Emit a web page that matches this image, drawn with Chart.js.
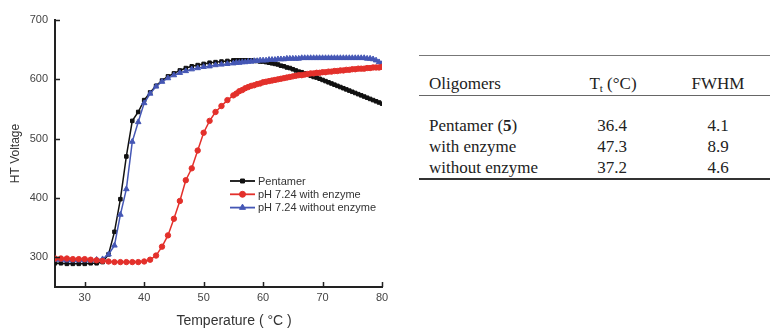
<!DOCTYPE html>
<html>
<head>
<meta charset="utf-8">
<script src="https://cdn.jsdelivr.net/npm/chart.js@4.4.1/dist/chart.umd.min.js"></script>
<style>
  html, body { margin: 0; padding: 0; background: #fff; }
  body { width: 770px; height: 330px; position: relative; overflow: hidden; }
  #chartBox { position: absolute; left: 0; top: 0; width: 400px; height: 330px; }
  .tbl { position: absolute; font-family: "Liberation Serif", "Times New Roman", serif; font-size: 17px; color: #222; white-space: nowrap; line-height: 1; }
  .hl { position: absolute; left: 419px; width: 351px; }
  .c { transform: translateX(-50%); }
</style>
</head>
<body>
<div id="chartBox"><canvas id="c"></canvas></div>

<div class="hl" style="top:55px;height:1px;background:#777;"></div>
<div class="hl" style="top:95px;height:1px;background:#666;"></div>
<div class="hl" style="top:178px;height:2px;background:#333;"></div>

<div class="tbl" style="left:429px;top:75px;">Oligomers</div>
<div class="tbl c" style="left:613px;top:75px;">T<sub style="font-size:11px;vertical-align:-3px;">t</sub> (°C)</div>
<div class="tbl c" style="left:718px;top:75px;">FWHM</div>

<div class="tbl" style="left:429px;top:117px;">Pentamer (<b>5</b>)</div>
<div class="tbl" style="left:429px;top:138px;">with enzyme</div>
<div class="tbl" style="left:429px;top:159px;">without enzyme</div>

<div class="tbl c" style="left:612px;top:117px;">36.4</div>
<div class="tbl c" style="left:612px;top:138px;">47.3</div>
<div class="tbl c" style="left:612px;top:159px;">37.2</div>

<div class="tbl c" style="left:718px;top:117px;">4.1</div>
<div class="tbl c" style="left:718px;top:138px;">8.9</div>
<div class="tbl c" style="left:718px;top:159px;">4.6</div>

<script>
// ---- data ----
const TEMPS = [
  25,26,27,28,29,30,31,32,33,34,35,36,37,38,39,40,41,42,43,44,45,46,47,48,49,50,51,52,53,54,55,
  55.5,56,56.5,57,57.5,58,58.5,59,59.5,60,
  60.5,61,61.5,62,62.5,63,63.5,64,64.5,65,65.5,66,66.5,67,67.5,68,68.5,69,69.5,70,
  70.5,71,71.5,72,72.5,73,73.5,74,74.5,75,75.5,76,76.5,77,77.5,78,78.5,79,79.5,80
];
const PENTAMER = [
  290,290,289,289,289,289,290,290,292,305,343,398,470,530,545,565,578,589,598,605,610,615,619,622,624,626,628,629,630,631,632,
  632,632,632,632,632,632,631,631,630,630,
  629,628,627,626,625,623,622,620,619,617,615,613,612,610,608,606,604,603,601,599,
  597,595,593,591,589,587,585,583,581,579,577,575,573,571,569,567,565,563,561,559
];
const WITH_ENZYME = [
  298,298,298,297,297,297,296,295,294,293,292,292,292,292,292,293,296,303,318,337,365,395,430,450,480,510,530,545,555,565,573,
  576,580,582,585,587,589,590,592,593,595,
  596,597,598,599,600,601,602,603,604,605,606,607,607,608,609,610,610,611,611,612,
  612,613,613,614,614,615,615,616,616,617,617,618,618,618,619,619,620,620,620,621
];
const WITHOUT_ENZYME = [
  296,296,295,295,295,295,295,296,297,305,320,372,415,495,528,560,576,588,596,602,607,611,614,617,619,621,622,624,625,626,627,
  628,628,629,629,630,630,631,631,632,632,
  632,633,633,633,634,634,634,635,635,635,635,635,636,636,636,636,636,636,636,636,
  636,636,636,636,636,636,636,636,636,636,636,636,636,636,635,635,634,632,629,626
];
const SERIES_NAMES = ["Pentamer", "pH 7.24 with enzyme", "pH 7.24 without enzyme"];
const X_TICKS = [30, 40, 50, 60, 70, 80];
const Y_TICKS = [300, 400, 500, 600, 700];

const pts = arr => TEMPS.map((t, i) => ({ x: t, y: arr[i] }));

const BLACK = '#111111', RED = '#e3302b', BLUE = '#4557b5';

// inward tick marks
const innerTicks = {
  id: 'innerTicks',
  afterDraw(chart) {
    const ctx = chart.ctx, a = chart.chartArea;
    const xs = chart.scales.x, ys = chart.scales.y;
    ctx.save();
    ctx.strokeStyle = '#222';
    ctx.lineWidth = 1.5;
    ctx.beginPath();
    xs.ticks.forEach(t => {
      const px = Math.round(xs.getPixelForValue(t.value)) + 0.5;
      ctx.moveTo(px, a.bottom); ctx.lineTo(px, a.bottom - 5);
    });
    ys.ticks.forEach(t => {
      const py = Math.round(ys.getPixelForValue(t.value)) + 0.5;
      ctx.moveTo(a.left, py); ctx.lineTo(a.left + 5, py);
    });
    ctx.stroke();
    ctx.restore();
  }
};

// legend drawn inside the plot, in SERIES_NAMES order
const innerLegend = {
  id: 'innerLegend',
  afterDraw(chart) {
    const ctx = chart.ctx;
    const x0 = 230, x1 = 255, y0 = 181, dy = 13.3;
    ctx.save();
    SERIES_NAMES.forEach((name, i) => {
      const ds = chart.data.datasets.find(d => d.label === name);
      const y = y0 + i * dy;
      ctx.strokeStyle = ds.borderColor;
      ctx.lineWidth = 1.8;
      ctx.beginPath(); ctx.moveTo(x0, y); ctx.lineTo(x1, y); ctx.stroke();
      ctx.fillStyle = ds.borderColor;
      ctx.strokeStyle = ds.borderColor;
      ctx.lineWidth = 1;
      Chart.helpers.drawPoint(ctx, { pointStyle: ds.pointStyle, radius: ds.pointRadius + 0.3, borderWidth: 1 }, (x0 + x1) / 2, y);
      ctx.fillStyle = '#333';
      ctx.font = '11px "Liberation Sans", Arial, sans-serif';
      ctx.textBaseline = 'middle';
      ctx.fillText(name, x1 + 3, y + 0.5);
    });
    ctx.restore();
  }
};

const mk = (label, data, color, style, r) => ({
  label, data: pts(data),
  borderColor: color, backgroundColor: color,
  pointBackgroundColor: color, pointBorderColor: color,
  pointStyle: style, pointRadius: r, pointBorderWidth: 1,
  borderWidth: 1.5, tension: 0, fill: false
});

new Chart(document.getElementById('c'), {
  type: 'line',
  data: {
    datasets: [
      mk(SERIES_NAMES[1], WITH_ENZYME, RED, 'circle', 2.7),
      mk(SERIES_NAMES[2], WITHOUT_ENZYME, BLUE, 'triangle', 3.2),
      mk(SERIES_NAMES[0], PENTAMER, BLACK, 'rect', 2.5),
    ]
  },
  options: {
    responsive: true,
    maintainAspectRatio: false,
    animation: false,
    events: [],
    layout: { padding: { left: 8, right: 18, top: 20, bottom: 0 } },
    plugins: { legend: { display: false }, tooltip: { enabled: false } },
    scales: {
      x: {
        type: 'linear', min: 25, max: 80,
        afterBuildTicks: s => { s.ticks = X_TICKS.map(v => ({ value: v })); },
        afterFit: s => { s.height = 43; },
        grid: { display: true, drawOnChartArea: false, drawTicks: false },
        border: { display: true, color: '#222', width: 2 },
        ticks: { color: '#444', padding: 4, font: { family: '"Liberation Sans", Arial, sans-serif', size: 11 } },
        title: { display: true, text: '        Temperature ( °C )', color: '#333', padding: { top: 1, bottom: 0 },
                 font: { family: '"Liberation Sans", Arial, sans-serif', size: 14 } }
      },
      y: {
        type: 'linear', min: 250, max: 700,
        afterBuildTicks: s => { s.ticks = Y_TICKS.map(v => ({ value: v })); },
        afterFit: s => { s.width = 47; },
        grid: { display: true, drawOnChartArea: false, drawTicks: false },
        border: { display: true, color: '#222', width: 2 },
        ticks: { color: '#444', padding: 7, font: { family: '"Liberation Sans", Arial, sans-serif', size: 11 } },
        title: { display: true, text: 'HT Voltage', color: '#333', padding: { top: 0, bottom: 2 },
                 font: { family: '"Liberation Sans", Arial, sans-serif', size: 12 } }
      }
    }
  },
  plugins: [innerTicks, innerLegend]
});
</script>
</body>
</html>
